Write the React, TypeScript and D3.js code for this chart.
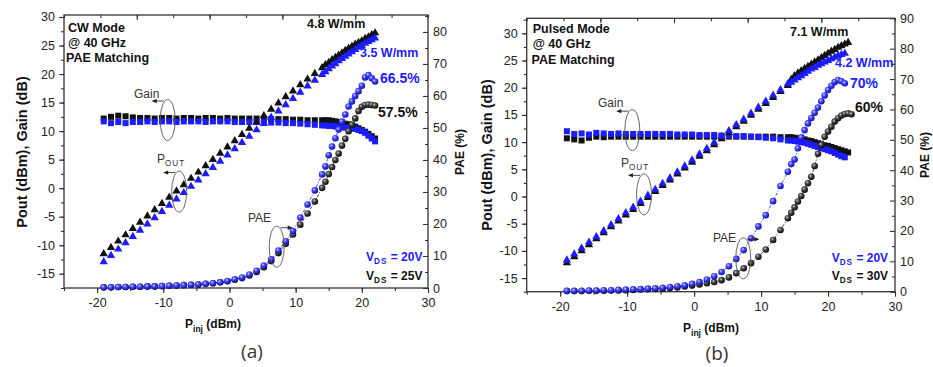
import { useEffect, useRef } from "react";
import * as d3 from "d3";

const BLUE = "#1c1cff";
const DARK = "#111111";
const FONT = "'Liberation Sans', Arial, sans-serif";

type Series = (number | null)[];

// ---------- (a) CW mode @ 40 GHz ----------
const pinCW = [
  -19, -17.9, -16.8, -15.7, -14.6, -13.5, -12.4, -11.3, -10.2, -9.1, -8, -6.9, -5.8, -4.7, -3.6, -2.5,
  -1.4, -0.3, 0.8, 1.9, 3, 4.1, 5.2, 6.3, 7.4, 8.5, 9.6, 10.7, 11.8, 12.9, 14,
  14.5, 15, 15.5, 16, 16.5, 17, 17.5, 18, 18.5, 19, 19.5, 20, 20.5, 21, 21.5, 22,
];
// VDS = 25V (black)
const poutCW25: Series = [
  -11.5, -10.4, -9.3, -8.2, -7.1, -6.0, -4.9, -3.8, -2.7, -1.6, -0.5, 0.6, 1.7, 2.8, 3.9, 5.0,
  6.1, 7.2, 8.3, 9.4, 10.5, 11.6, 12.7, 13.8, 14.9, 16.0, 17.0, 18.1, 19.1, 20.1, 21.1,
  21.6, 22.0, 22.5, 22.9, 23.3, 23.7, 24.1, 24.5, 24.8, 25.2, 25.5, 25.8, 26.2, 26.5, 26.9, 27.2,
];
// VDS = 20V (blue)
const poutCW20: Series = [
  -12.9, -11.8, -10.7, -9.6, -8.5, -7.4, -6.3, -5.2, -4.1, -3.0, -1.9, -0.8, 0.3, 1.4, 2.5, 3.6,
  4.7, 5.8, 6.9, 8.0, 9.1, 10.2, 11.3, 12.4, 13.5, 14.6, 15.7, 16.8, 17.9, 18.9, 19.9,
  20.4, 20.9, 21.4, 21.8, 22.3, 22.7, 23.1, 23.5, 23.9, 24.3, 24.7, 25.0, 25.4, 25.7, 26.0, 26.3,
];
const gainCW25: Series = [
  12.2, 12.5, 12.7, 12.6, 12.4, 12.3, 12.3, 12.2, 12.3, 12.3, 12.2, 12.3, 12.3, 12.2, 12.3, 12.3,
  12.2, 12.3, 12.2, 12.2, 12.2, 12.2, 12.1, 12.1, 12.1, 12.1, 12.0, 12.0, 11.9, 11.9, 11.9,
  11.9, 11.9, 11.8, 11.7, 11.6, 11.5, 11.3, 11.2, 11.0, 10.8, 10.5, 10.2, 9.9, 9.5, 9.1, 8.7,
];
const gainCW20: Series = [
  11.7, 11.4, 11.6, 11.4, 11.6, 11.6, 11.7, 11.6, 11.7, 11.7, 11.6, 11.7, 11.7, 11.7, 11.6, 11.7,
  11.7, 11.7, 11.6, 11.6, 11.6, 11.6, 11.6, 11.5, 11.5, 11.4, 11.4, 11.3, 11.2, 11.1, 11.0,
  11.0, 10.9, 10.9, 10.8, 10.8, 10.7, 10.6, 10.6, 10.5, 10.4, 10.2, 10.0, 9.7, 9.2, 8.7, 8.2,
];
const paeCW25: Series = [
  0.2, 0.2, 0.3, 0.3, 0.4, 0.4, 0.5, 0.5, 0.6, 0.7, 0.8, 0.9, 1.0, 1.1, 1.3, 1.5,
  1.8, 2.1, 2.6, 3.1, 3.9, 5.0, 6.5, 8.4, 10.9, 13.8, 16.7, 19.8, 23.3, 27.0, 31.3,
  33.2, 35.6, 37.8, 40.0, 42.0, 44.5, 46.6, 49.0, 51.0, 53.0, 55.3, 56.6, 57.2, 57.3, 57.2, 57.0,
];
const paeCW20: Series = [
  0.2, 0.2, 0.3, 0.3, 0.4, 0.4, 0.5, 0.5, 0.6, 0.7, 0.8, 0.9, 1.0, 1.1, 1.3, 1.5,
  1.8, 2.2, 2.7, 3.3, 4.2, 5.4, 7.0, 9.0, 11.7, 14.6, 17.8, 22.0, 26.1, 30.5, 35.5,
  38.0, 41.5, 44.2, 46.8, 49.5, 52.0, 54.2, 56.7, 58.3, 60.0, 61.5, 63.2, 65.8, 66.5, 65.5, 64.5,
];

// ---------- (b) Pulsed mode @ 40 GHz ----------
const pinPulsed = [
  -19, -17.9, -16.8, -15.7, -14.6, -13.5, -12.4, -11.3, -10.2, -9.1, -8, -6.9, -5.8, -4.7, -3.6, -2.5,
  -1.4, -0.3, 0.8, 1.9, 3, 4.1, 5.2, 6.3, 7.4, 8.5, 9.6, 10.7, 11.8, 12.9, 14,
  14.5, 15, 15.5, 16, 16.5, 17, 17.5, 18, 18.5, 19, 19.5, 20, 20.5, 21, 21.5, 22, 22.5, 23, 23.5,
];
// VDS = 30V (black)
const poutP30: Series = [
  -12.2, -11.1, -10.0, -8.9, -7.8, -6.7, -5.6, -4.5, -3.4, -2.4, -1.3, -0.2, 0.9, 2.0, 3.0, 4.1,
  5.2, 6.3, 7.4, 8.4, 9.5, 10.6, 11.7, 12.8, 13.8, 14.9, 16.0, 17.1, 18.2, 19.3, 20.4,
  21.5, 22.2, 22.7, 23.1, 23.5, 23.9, 24.3, 24.7, 25.1, 25.5, 25.9, 26.3, 26.7, 27.0, 27.4, 27.7, 28.0, 28.3, null,
];
// VDS = 20V (blue)
const poutP20: Series = [
  -11.7, -10.6, -9.5, -8.4, -7.4, -6.3, -5.2, -4.1, -3.0, -2.0, -0.9, 0.2, 1.3, 2.4, 3.4, 4.5,
  5.6, 6.7, 7.8, 8.8, 9.9, 11.0, 12.1, 13.2, 14.2, 15.3, 16.4, 17.5, 18.6, 19.6, 20.7,
  21.0, 21.4, 21.8, 22.2, 22.6, 23.0, 23.4, 23.7, 24.1, 24.4, 24.7, 25.0, 25.3, 25.6, 25.9, 26.1, 26.3, null, null,
];
const gainP30: Series = [
  10.7, 10.5, 10.3, 10.8, 11.0, 10.9, 11.0, 11.0, 11.0, 11.0, 11.0, 11.0, 11.0, 11.0, 11.0, 11.0,
  11.0, 11.0, 11.0, 11.0, 11.0, 11.0, 11.0, 11.0, 11.0, 11.0, 11.0, 11.0, 11.0, 10.9, 10.9,
  10.9, 10.8, 10.7, 10.6, 10.5, 10.3, 10.2, 10.0, 9.8, 9.6, 9.4, 9.3, 9.1, 8.9, 8.7, 8.5, 8.3, 8.1, null,
];
const gainP20: Series = [
  12.0, 11.5, 11.6, 11.4, 11.7, 11.6, 11.5, 11.6, 11.5, 11.5, 11.5, 11.5, 11.5, 11.5, 11.5, 11.4,
  11.4, 11.4, 11.3, 11.3, 11.3, 11.2, 11.2, 11.1, 11.1, 11.0, 10.9, 10.8, 10.7, 10.5, 10.3,
  10.3, 10.2, 10.1, 10.0, 9.9, 9.7, 9.5, 9.3, 9.1, 8.9, 8.7, 8.5, 8.3, 8.0, 7.7, 7.4, 7.2, null, null,
];
const paeP30: Series = [
  0.2, 0.2, 0.2, 0.3, 0.3, 0.3, 0.4, 0.4, 0.5, 0.6, 0.7, 0.8, 0.9, 1.0, 1.2, 1.4,
  1.7, 2.0, 2.4, 2.8, 3.2, 3.8, 4.7, 6.1, 7.7, 9.4, 11.5, 13.9, 17.0, 20.3, 24.2,
  26.0, 27.8, 29.7, 31.5, 33.6, 35.7, 37.8, 41.4, 45.4, 48.3, 51.0, 52.7, 54.3, 56.0, 57.1, 58.0, 58.5, 58.7, 58.4,
];
const paeP20: Series = [
  0.3, 0.3, 0.3, 0.4, 0.4, 0.5, 0.5, 0.6, 0.7, 0.8, 0.9, 1.0, 1.1, 1.3, 1.5, 1.8,
  2.1, 2.6, 3.2, 4.0, 5.1, 6.5, 8.4, 10.8, 13.7, 17.6, 21.5, 25.2, 29.8, 34.8, 39.5,
  42.0, 43.5, 47.2, 50.8, 53.2, 55.4, 57.2, 58.9, 60.6, 62.7, 64.6, 66.4, 67.8, 69.0, 69.7, 69.3, 68.6, null, null,
];

const xTicks = [-20, -10, 0, 10, 20, 30];
const yTicks = [-15, -10, -5, 0, 5, 10, 15, 20, 25, 30];
const paeTicksCW = [0, 10, 20, 30, 40, 50, 60, 70, 80];
const paeTicksPulsed = [0, 10, 20, 30, 40, 50, 60, 70, 80, 90];

interface Label {
  text: string;
  x: number;
  y: number;
  size: number;
  bold?: boolean;
  color?: string;
  sub?: string;
  tail?: string;
}

interface Loop {
  x: number; // data coords
  y: number;
  axis: "left" | "pae";
  dir: -1 | 1;
  label: Label;
}

interface PanelConfig {
  box: { left: number; top: number; right: number; bottom: number };
  yDomain: [number, number];
  paeDomain: [number, number];
  paeTicks: number[];
  pin: number[];
  gain: [Series, Series];
  pout: [Series, Series];
  pae: [Series, Series];
  labels: Label[];
  loops: Loop[];
  yTitle: { x: number; y: number };
  paeTitle: { x: number; y: number };
  xTitle: { x: number; y: number };
  tag: { text: string; x: number; y: number };
}

const panelA: PanelConfig = {
  box: { left: 64, top: 15, right: 428, bottom: 288 },
  yDomain: [-17.5, 30.35],
  paeDomain: [0, 85.3],
  paeTicks: paeTicksCW,
  pin: pinCW,
  gain: [gainCW25, gainCW20],
  pout: [poutCW25, poutCW20],
  pae: [paeCW25, paeCW20],
  labels: [
    { text: "CW Mode", x: 68, y: 32, size: 12.5, bold: true },
    { text: "@ 40 GHz", x: 68, y: 47, size: 12.5, bold: true },
    { text: "PAE Matching", x: 66, y: 62, size: 12.5, bold: true },
    { text: "4.8 W/mm", x: 307, y: 28, size: 12.5, bold: true },
    { text: "3.5 W/mm", x: 360, y: 57, size: 12.5, bold: true, color: BLUE },
    { text: "66.5%", x: 380, y: 83, size: 14, bold: true, color: BLUE },
    { text: "57.5%", x: 378, y: 117, size: 14, bold: true },
    { text: "V", sub: "DS", tail: " = 20V", x: 366, y: 261, size: 12, bold: true, color: BLUE },
    { text: "V", sub: "DS", tail: " = 25V", x: 366, y: 280, size: 12, bold: true },
  ],
  loops: [
    { x: -9.33, y: 11.95, axis: "left", dir: -1, label: { text: "Gain", x: 134, y: 98, size: 12 } },
    { x: -7.6, y: -0.6, axis: "left", dir: -1, label: { text: "P", sub: "OUT", x: 157, y: 163, size: 12 } },
    { x: 7.14, y: 12.9, axis: "pae", dir: 1, label: { text: "PAE", x: 248, y: 222, size: 12 } },
  ],
  yTitle: { x: 27, y: 152 },
  paeTitle: { x: 463.5, y: 152 },
  xTitle: { x: 213, y: 328 },
  tag: { text: "(a)", x: 252, y: 358 },
};

const panelB: PanelConfig = {
  box: { left: 526.7, top: 18.3, right: 895, bottom: 291.7 },
  yDomain: [-17.5, 32.76],
  paeDomain: [0, 90],
  paeTicks: paeTicksPulsed,
  pin: pinPulsed,
  gain: [gainP30, gainP20],
  pout: [poutP30, poutP20],
  pae: [paeP30, paeP20],
  labels: [
    { text: "Pulsed Mode", x: 532.7, y: 33, size: 12.5, bold: true },
    { text: "@ 40 GHz", x: 532.7, y: 48, size: 12.5, bold: true },
    { text: "PAE Matching", x: 531.5, y: 64, size: 12.5, bold: true },
    { text: "7.1 W/mm", x: 790, y: 36, size: 12.5, bold: true },
    { text: "4.2 W/mm", x: 835, y: 67, size: 12.5, bold: true, color: BLUE },
    { text: "70%", x: 850, y: 88, size: 14, bold: true, color: BLUE },
    { text: "60%", x: 855, y: 112, size: 14, bold: true },
    { text: "V", sub: "DS", tail: " = 20V", x: 831.7, y: 262, size: 12, bold: true, color: BLUE },
    { text: "V", sub: "DS", tail: " = 30V", x: 831.7, y: 280, size: 12, bold: true },
  ],
  loops: [
    { x: -9.23, y: 12.2, axis: "left", dir: -1, label: { text: "Gain", x: 598, y: 107, size: 12 } },
    { x: -7.48, y: 0.4, axis: "left", dir: -1, label: { text: "P", sub: "OUT", x: 621, y: 167, size: 12 } },
    { x: 7.34, y: 11.0, axis: "pae", dir: 1, label: { text: "PAE", x: 713, y: 242, size: 12 } },
  ],
  yTitle: { x: 492, y: 155 },
  paeTitle: { x: 929, y: 155 },
  xTitle: { x: 711, y: 332 },
  tag: { text: "(b)", x: 717, y: 360 },
};

type G = d3.Selection<SVGGElement, unknown, null, undefined>;

// plain hyphen minus, as in the original figure
const tickText = (d: d3.NumberValue) => String(d);

function addLabel(g: G, l: Label) {
  const t = g
    .append("text")
    .attr("x", l.x)
    .attr("y", l.y)
    .attr("fill", l.color ?? DARK)
    .style("font-family", FONT)
    .style("font-size", `${l.size}px`)
    .style("font-weight", l.bold ? "700" : "400");
  t.append("tspan").text(l.text);
  if (l.sub) {
    t.append("tspan")
      .attr("dy", l.size * 0.28)
      .style("font-size", `${l.size * 0.68}px`)
      .style("letter-spacing", "1px")
      .text(l.sub);
  }
  if (l.tail) {
    t.append("tspan").attr("dy", -l.size * 0.28).text(l.tail);
  }
}

function styleAxis(sel: G) {
  sel.select("path.domain").remove();
  sel.selectAll("line").attr("stroke", "#333").attr("stroke-width", 1.1);
  sel
    .selectAll("text")
    .attr("fill", "#222")
    .style("font-family", FONT)
    .style("font-size", "12.5px");
}

function drawPanel(g: G, cfg: PanelConfig) {
  const { left, top, right, bottom } = cfg.box;
  const x = d3.scaleLinear().domain([-25, 30]).range([left, right]);
  const y = d3.scaleLinear().domain(cfg.yDomain).range([bottom, top]);
  const yp = d3.scaleLinear().domain(cfg.paeDomain).range([bottom, top]);
  const topScale = d3.scaleLinear().domain([0, 10]).range([left, right]);

  // bottom axis
  g.append("g")
    .attr("transform", `translate(0,${bottom})`)
    .call(d3.axisBottom(x).tickValues(d3.range(-25, 31, 5)).tickSize(3).tickSizeOuter(0).tickFormat(() => ""))
    .call(styleAxis);
  g.append("g")
    .attr("transform", `translate(0,${bottom})`)
    .call(d3.axisBottom(x).tickValues(xTicks).tickSize(5).tickSizeOuter(0).tickPadding(5).tickFormat(tickText))
    .call(styleAxis);

  // top axis (unlabelled, inward)
  g.append("g")
    .attr("transform", `translate(0,${top})`)
    .call(d3.axisTop(topScale).ticks(10).tickSize(-3).tickSizeOuter(0).tickFormat(() => ""))
    .call(styleAxis);
  g.append("g")
    .attr("transform", `translate(0,${top})`)
    .call(d3.axisTop(topScale).tickValues([2, 4, 6, 8]).tickSize(-5).tickSizeOuter(0).tickFormat(() => ""))
    .call(styleAxis);

  // left axis
  const yMinor = d3.range(-17.5, cfg.yDomain[1], 2.5);
  g.append("g")
    .attr("transform", `translate(${left},0)`)
    .call(d3.axisLeft(y).tickValues(yMinor).tickSize(3).tickSizeOuter(0).tickFormat(() => ""))
    .call(styleAxis);
  g.append("g")
    .attr("transform", `translate(${left},0)`)
    .call(d3.axisLeft(y).tickValues(yTicks).tickSize(5).tickSizeOuter(0).tickPadding(4).tickFormat(tickText))
    .call(styleAxis);

  // right axis (PAE), inward ticks
  const pMinor = d3.range(5, cfg.paeDomain[1], 10);
  g.append("g")
    .attr("transform", `translate(${right},0)`)
    .call(d3.axisRight(yp).tickValues(pMinor).tickSize(-3).tickSizeOuter(0).tickFormat(() => ""))
    .call(styleAxis);
  g.append("g")
    .attr("transform", `translate(${right},0)`)
    .call(d3.axisRight(yp).tickValues(cfg.paeTicks).tickSize(-5).tickSizeOuter(0).tickPadding(5).tickFormat(tickText))
    .call(styleAxis);

  // frame
  g.append("rect")
    .attr("x", left)
    .attr("y", top)
    .attr("width", right - left)
    .attr("height", bottom - top)
    .attr("fill", "none")
    .attr("stroke", "#333")
    .attr("stroke-width", 1.3);

  const pts = (vals: Series) =>
    cfg.pin
      .map((p, i) => ({ p, v: vals[i] }))
      .filter((d): d is { p: number; v: number } => d.v !== null && d.v !== undefined);

  const colors = [DARK, BLUE];

  // gain squares
  cfg.gain.forEach((s, k) => {
    g.append("g")
      .selectAll("rect")
      .data(pts(s))
      .join("rect")
      .attr("x", (d) => x(d.p) - 3)
      .attr("y", (d) => y(d.v) - 3)
      .attr("width", 6)
      .attr("height", 6)
      .attr("fill", colors[k]);
  });

  // pout triangles
  const tri = d3.symbol(d3.symbolTriangle, 30);
  cfg.pout.forEach((s, k) => {
    g.append("g")
      .selectAll("path")
      .data(pts(s))
      .join("path")
      .attr("d", tri)
      .attr("transform", (d) => `translate(${x(d.p)},${y(d.v)})`)
      .attr("fill", colors[k]);
  });

  // PAE balls with dash-dot guide line
  const line = d3
    .line<{ p: number; v: number }>()
    .x((d) => x(d.p))
    .y((d) => yp(d.v));
  const grads = ["url(#ballBlack)", "url(#ballBlue)"];
  cfg.pae.forEach((s, k) => {
    g.append("path")
      .datum(pts(s))
      .attr("d", line)
      .attr("fill", "none")
      .attr("stroke", colors[k])
      .attr("stroke-width", 0.8)
      .attr("stroke-dasharray", "3,1.5,1,1.5");
  });
  cfg.pae.forEach((s, k) => {
    g.append("g")
      .selectAll("circle")
      .data(pts(s))
      .join("circle")
      .attr("cx", (d) => x(d.p))
      .attr("cy", (d) => yp(d.v))
      .attr("r", 3.3)
      .attr("fill", grads[k]);
  });

  // loops + arrows
  for (const lp of cfg.loops) {
    const cx = x(lp.x);
    const cy = lp.axis === "left" ? y(lp.y) : yp(lp.y);
    g.append("ellipse")
      .attr("cx", cx)
      .attr("cy", cy)
      .attr("rx", 7.5)
      .attr("ry", 20.5)
      .attr("fill", "none")
      .attr("stroke", "#555")
      .attr("stroke-width", 0.9);
    const ay = cy - 19;
    const x0 = cx + lp.dir * 4;
    const x1 = cx + lp.dir * 15;
    g.append("line")
      .attr("x1", x0)
      .attr("y1", ay)
      .attr("x2", x1)
      .attr("y2", ay)
      .attr("stroke", "#333")
      .attr("stroke-width", 0.9);
    g.append("path")
      .attr("d", `M${x1 + lp.dir * 1},${ay} L${x1 - lp.dir * 4},${ay - 2.2} L${x1 - lp.dir * 4},${ay + 2.2} Z`)
      .attr("fill", "#222");
    addLabel(g, { ...lp.label, color: "#333" });
  }

  for (const l of cfg.labels) addLabel(g, l);

  // axis titles
  g.append("text")
    .attr("transform", `translate(${cfg.yTitle.x},${cfg.yTitle.y}) rotate(-90)`)
    .attr("text-anchor", "middle")
    .attr("fill", DARK)
    .style("font-family", FONT)
    .style("font-size", "14.5px")
    .style("font-weight", "700")
    .text("Pout (dBm), Gain (dB)");
  g.append("text")
    .attr("transform", `translate(${cfg.paeTitle.x},${cfg.paeTitle.y}) rotate(-90)`)
    .attr("text-anchor", "middle")
    .attr("fill", DARK)
    .style("font-family", FONT)
    .style("font-size", "12px")
    .style("font-weight", "700")
    .text("PAE (%)");
  const xt = g
    .append("text")
    .attr("x", cfg.xTitle.x)
    .attr("y", cfg.xTitle.y)
    .attr("text-anchor", "middle")
    .attr("fill", DARK)
    .style("font-family", FONT)
    .style("font-size", "12px")
    .style("font-weight", "700");
  xt.append("tspan").text("P");
  xt.append("tspan").attr("dy", 3.5).style("font-size", "8.5px").text("inj");
  xt.append("tspan").attr("dy", -3.5).text(" (dBm)");

  g.append("text")
    .attr("x", cfg.tag.x)
    .attr("y", cfg.tag.y)
    .attr("text-anchor", "middle")
    .attr("fill", "#333")
    .style("font-family", "'Open Sans', 'Noto Sans', sans-serif")
    .style("font-size", "19px")
    .text(cfg.tag.text);
}

export default function App() {
  const svgRef = useRef<SVGSVGElement>(null);

  useEffect(() => {
    if (!svgRef.current) return;
    const svg = d3.select(svgRef.current);
    svg.selectAll("*").remove();

    const defs = svg.append("defs");
    const ball = (id: string, stops: [number, string][]) => {
      const gr = defs
        .append("radialGradient")
        .attr("id", id)
        .attr("cx", "38%")
        .attr("cy", "35%")
        .attr("r", "65%");
      for (const [o, c] of stops) gr.append("stop").attr("offset", o).attr("stop-color", c);
    };
    ball("ballBlue", [
      [0, "#d8d8ff"],
      [0.35, "#4d4dff"],
      [1, "#0c0cb0"],
    ]);
    ball("ballBlack", [
      [0, "#d0d0d0"],
      [0.35, "#505050"],
      [1, "#050505"],
    ]);

    svg.append("rect").attr("width", 933).attr("height", 367).attr("fill", "#fff");
    drawPanel(svg.append("g"), panelA);
    drawPanel(svg.append("g"), panelB);
  }, []);

  return (
    <svg
      ref={svgRef}
      width={933}
      height={367}
      style={{ position: "absolute", left: 0, top: 0, display: "block" }}
    />
  );
}
